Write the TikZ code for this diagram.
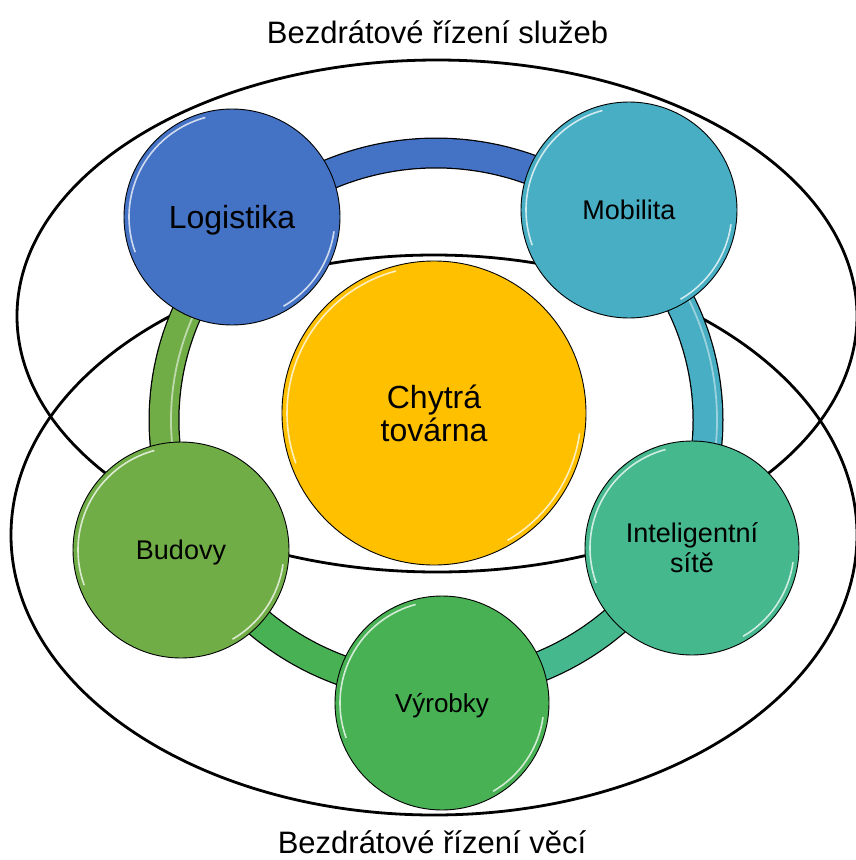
\documentclass[tikz,border=0pt]{standalone}
\usepackage{fontspec}
\setmainfont{Liberation Sans}
\definecolor{cLog}{HTML}{4472C4}
\definecolor{cMob}{HTML}{47AEC3}
\definecolor{cInt}{HTML}{45B88D}
\definecolor{cVyr}{HTML}{48B154}
\definecolor{cBud}{HTML}{70AD47}
\definecolor{cCore}{HTML}{FFC000}
\begin{document}
\begin{tikzpicture}[x=1pt,y=-1pt,
  zone/.style={draw=black, line width=2.8pt},
  bubble/.style={circle, inner sep=0pt, minimum size=#1, draw=black, line width=0.9pt, text=black},
  onetext/.style={font=\fontsize{#1}{#1}\selectfont, text height=0.72*#1, text depth=0pt},
  twotext/.style 2 args={font=\fontsize{#1}{#2}\selectfont, align=center},
  title/.style={font=\fontsize{31}{34}\selectfont, anchor=base, text=black},
  gloss/.style={white, line width=1.6pt, opacity=0.75},
]
\useasboundingbox (0,0) rectangle (856,860);

% two overlapping areas
\draw[zone] (437,316) ellipse [x radius=420, y radius=256];
\draw[zone] (434,535) ellipse [x radius=423, y radius=280];

% ring joining the bubbles, one coloured arc per gap
\coordinate (ringc) at (436,420);
\foreach \a/\b in {-134.6/-47.9, -47.9/27, 27/88.8, 88.8/152.4, 152.4/225.4}
  \draw[black, line width=31pt] (ringc) ++(\a:272 and 267)
    arc[start angle=\a, end angle=\b, x radius=272, y radius=267];
\foreach \a/\b/\c in {-134.6/-47.9/cLog, -47.9/27/cMob, 27/88.8/cInt, 88.8/152.4/cVyr, 152.4/225.4/cBud}
  \draw[\c, line width=28.5pt] (ringc) ++(\a:272 and 267)
    arc[start angle=\a, end angle=\b, x radius=272, y radius=267];
% light streaks on the steep sides of the ring
\draw[white, opacity=0.55, line width=1.8pt] (ringc) ++(165:265 and 260)
  arc[start angle=165, end angle=215, x radius=265, y radius=260];
\draw[white, opacity=0.45, line width=1.8pt] (ringc) ++(-30:281 and 276)
  arc[start angle=-30, end angle=15, x radius=281, y radius=276];

% bubbles
\node[bubble=304, fill=cCore, twotext={32}{33}] (tovarna) at (434,413) {Chytrá\\továrna};
\node[bubble=216, fill=cLog, onetext=32] (logistika) at (232,217) {Logistika};
\node[bubble=216, fill=cMob, onetext=27] (mobilita) at (629,210) {Mobilita};
\node[bubble=214, fill=cInt, twotext={27}{30}] (site) at (692,548) {Inteligentní\\sítě};
\node[bubble=214, fill=cVyr, onetext=26] (vyrobky) at (442,703) {Výrobky};
\node[bubble=216, fill=cBud, onetext=27] (budovy) at (181,550) {Budovy};

% bevel glints on each bubble
\foreach \n/\r in {tovarna/147, logistika/103, mobilita/103, site/102, vyrobky/102, budovy/103} {
  \draw[gloss] (\n.center) ++(-105:\r) arc[start angle=-105, end angle=-200, radius=\r];
  \draw[gloss] (\n.center) ++(8:\r) arc[start angle=8, end angle=60, radius=\r];
}

% area captions
\node[title] (sluzby) at (437.5,43) {Bezdrátové řízení služeb};
\node[title] (veci) at (432,853) {Bezdrátové řízení věcí};
\end{tikzpicture}
\end{document}
